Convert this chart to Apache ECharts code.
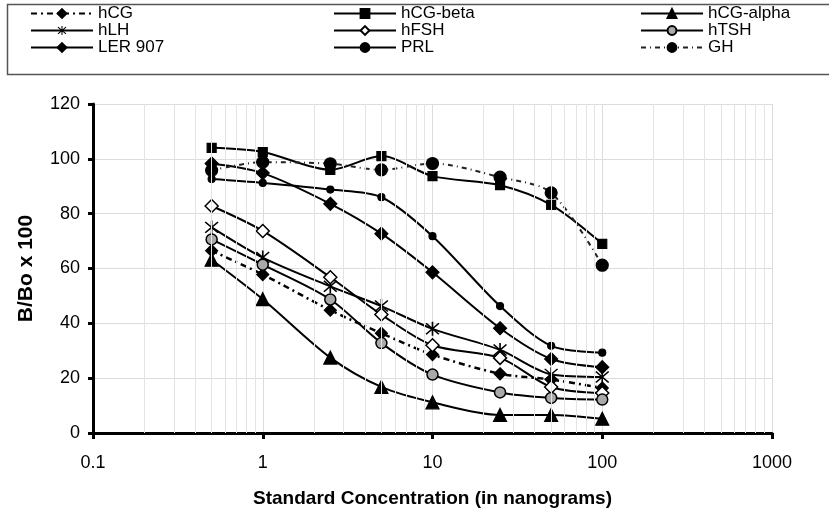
<!DOCTYPE html>
<html>
<head>
<meta charset="utf-8">
<script src="https://cdn.jsdelivr.net/npm/echarts@6/dist/echarts.min.js"></script>
<style>
  html, body { margin: 0; padding: 0; background: #fff; }
  #chart { width: 829px; height: 514px; }
</style>
</head>
<body>
<div id="chart"></div>
<script>
// concentrations (ng) used for every standard curve
var concentrations = [0.5, 1, 2.5, 5, 10, 25, 50, 100];

// B/Bo x 100
var hCG      = [66.5, 57.8, 44.8, 36.4, 28.6, 21.6, 19.5, 16.4];
var hCGbeta  = [104, 102.5, 96, 101, 93.7, 90.4, 83.2, 69];
var hCGalpha = [63.2, 48.8, 27.5, 16.8, 11.2, 6.6, 6.6, 5.2];
var hLH      = [75, 64, 53.5, 46.3, 38, 30.3, 21.4, 20.4];
var hFSH     = [82.8, 73.7, 56.8, 43.2, 32, 27.4, 16.8, 14.6];
var hTSH     = [70.6, 61.4, 48.7, 32.8, 21.3, 14.8, 12.8, 12.2];
var LER907   = [98.3, 94.8, 83.6, 72.7, 58.6, 38.2, 27, 24];
var PRL      = [92.6, 91.2, 88.8, 86, 71.8, 46.3, 31.8, 29.3];
var GH       = [95.8, 98.8, 98.2, 96, 98.3, 93.3, 87.6, 61.2];

var yTicks = [0, 20, 40, 60, 80, 100, 120];
var xDecades = [0.1, 1, 10, 100, 1000];

var chart = echarts.init(document.getElementById('chart'));

function pairs(vals) {
  return concentrations.map(function (c, i) { return [c, vals[i]]; });
}

// minor log grid lines 2..9 in each decade
var minorLines = [];
xDecades.slice(0, -1).forEach(function (d) {
  for (var k = 2; k <= 9; k++) minorLines.push({ xAxis: +(d * k).toPrecision(3) });
});

var asterisk = 'path://M9,0H11V20H9Z M1.5,2.9L2.9,1.5L18.5,17.1L17.1,18.5Z M17.1,1.5L18.5,2.9L2.9,18.5L1.5,17.1Z';

function mk(name, vals, symbol, size, fill, extra) {
  var s = {
    name: name,
    type: 'line',
    data: pairs(vals),
    smooth: 0.3,
    symbol: symbol,
    symbolSize: size,
    showSymbol: true,
    lineStyle: { color: '#000', width: 2, type: 'solid' },
    itemStyle: { color: fill, borderColor: '#000', borderWidth: 1.2 },
    emphasis: { disabled: true },
    z: 3
  };
  return Object.assign(s, extra || {});
}

var font = 'Liberation Sans, Arial, sans-serif';

var legendBase = {
  orient: 'vertical',
  top: 0,
  padding: 5,
  itemWidth: 62,
  itemHeight: 11,
  itemGap: 0,
  textStyle: { fontFamily: font, fontSize: 17, color: '#000' },
  selectedMode: false
};

chart.setOption({
  animation: false,
  backgroundColor: '#fff',
  graphic: [{
    type: 'rect',
    left: 5, top: 2,
    shape: { width: 823, height: 70 },
    style: { fill: 'none', stroke: '#555', lineWidth: 1.5 }
  }],
  legend: [
    Object.assign({ left: 25, data: ['hCG', 'hLH', 'LER 907'] }, legendBase),
    Object.assign({ left: 328, data: ['hCG-beta', 'hFSH', 'PRL'] }, legendBase),
    Object.assign({ left: 635, data: ['hCG-alpha', 'hTSH', 'GH'] }, legendBase)
  ],
  grid: { left: 93, right: 57, top: 104, bottom: 81 },
  xAxis: {
    type: 'log',
    logBase: 10,
    min: xDecades[0],
    max: xDecades[xDecades.length - 1],
    name: 'Standard Concentration (in nanograms)',
    nameLocation: 'middle',
    nameGap: 56,
    nameTextStyle: { fontFamily: font, fontSize: 19, fontWeight: 'bold', color: '#000' },
    axisLine: { lineStyle: { color: '#000', width: 3 } },
    axisTick: { show: true, length: 6, lineStyle: { color: '#000', width: 3 } },
    axisLabel: {
      fontFamily: font, fontSize: 18, color: '#000', margin: 21,
      formatter: function (v) { return String(v); }
    },
    splitLine: { show: true, lineStyle: { color: '#dcdcdc', width: 1 } }
  },
  yAxis: {
    type: 'value',
    min: yTicks[0],
    max: yTicks[yTicks.length - 1],
    interval: 20,
    name: 'B/Bo x 100',
    nameLocation: 'middle',
    nameGap: 56,
    nameTextStyle: { fontFamily: font, fontSize: 21, fontWeight: 'bold', color: '#000' },
    axisLine: { show: true, lineStyle: { color: '#000', width: 3 } },
    axisTick: { show: true, length: 5, lineStyle: { color: '#000', width: 3 } },
    axisLabel: { fontFamily: font, fontSize: 18, color: '#000', margin: 13 },
    splitLine: { show: true, lineStyle: { color: '#dcdcdc', width: 1 } }
  },
  series: [
    {
      name: 'minor grid',
      type: 'line',
      data: [],
      silent: true,
      z: 0,
      markLine: {
        silent: true,
        symbol: 'none',
        label: { show: false },
        lineStyle: { color: '#e3e3e3', width: 1, type: 'solid' },
        data: minorLines
      }
    },
    mk('hCG', hCG, 'diamond', 12, '#000', { lineStyle: { color: '#000', width: 2.5, type: [6, 4, 2, 4] } }),
    mk('hCG-beta', hCGbeta, 'rect', 9, '#000'),
    mk('hCG-alpha', hCGalpha, 'triangle', 13, '#000'),
    mk('hLH', hLH, asterisk, 14, '#000', { itemStyle: { color: '#000', borderWidth: 0 } }),
    mk('hFSH', hFSH, 'diamond', 13, '#fff', { itemStyle: { color: '#fff', borderColor: '#000', borderWidth: 1.5 } }),
    mk('hTSH', hTSH, 'circle', 11, '#aaa', { itemStyle: { color: '#aaa', borderColor: '#000', borderWidth: 1.5 } }),
    mk('LER 907', LER907, 'diamond', 13, '#000'),
    mk('PRL', PRL, 'circle', 7, '#000'),
    mk('GH', GH, 'circle', 12, '#000', { lineStyle: { color: '#222', width: 2, type: [5, 4, 1, 4] } })
  ]
});
</script>
</body>
</html>
